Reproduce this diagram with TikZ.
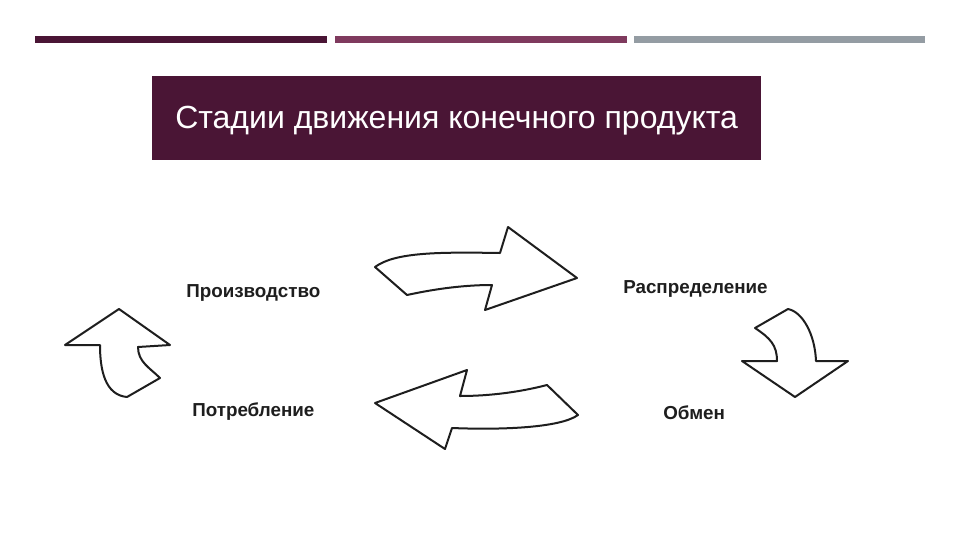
\documentclass[tikz,border=0pt]{standalone}
\usepackage{fontspec}
\setmainfont{Liberation Sans}
\definecolor{plum}{HTML}{4A1535}
\definecolor{rose}{HTML}{7F3A5E}
\definecolor{steel}{HTML}{949CA3}
\definecolor{ink}{HTML}{1E1E1E}
\tikzset{
  bar/.style={fill=#1, draw=none},
  arrowshape/.style={draw=ink, line width=1.5pt, line join=round, fill=white},
  stage/.style={text=ink, font=\fontsize{14.1}{16}\selectfont\bfseries, inner sep=0pt},
}
\begin{document}
\begin{tikzpicture}[x=0.75pt, y=-0.75pt]
\useasboundingbox (0,0) rectangle (960,540);
\fill[white] (0,0) rectangle (960,540);
% top bars
\fill[bar=plum] (35,36) rectangle (327,43);
\fill[bar=rose] (335,36) rectangle (627,43);
\fill[bar=steel] (634,36) rectangle (925,43);
% title
\node[fill=plum, minimum width=609*0.75pt, minimum height=84*0.75pt, inner sep=0pt, anchor=north west] (title) at (152,76) {};
\node[text=white, font=\fontsize{24}{28}\selectfont, anchor=west, inner sep=0pt] (titletext) at (175,121) {Стадии движения конечного продукта};
% labels
\node[stage, anchor=west] (prod) at (186,293) {Производство};
\node[stage, anchor=west] (dist) at (623,289) {Распределение};
\node[stage, anchor=west] (cons) at (192,412) {Потребление};
\node[stage, anchor=west] (exch) at (663,413) {Обмен};
% top arrow (right)
\draw[arrowshape] (375,267) .. controls (395,252) and (440,252) .. (500,253)
  -- (508,227) -- (577,278) -- (485,310) -- (492,285)
  .. controls (460,285) and (430,290) .. (407,295) -- cycle;
% bottom arrow (left)
\draw[arrowshape] (375,403) -- (467,370) -- (460,396)
  .. controls (490,396) and (520,392) .. (547,385) -- (578,415)
  .. controls (560,428) and (500,430) .. (452,428) -- (445,449) -- cycle;
% left arrow (up)
\draw[arrowshape] (119,309) -- (170,345) -- (138,347)
  .. controls (138,362) and (150,368) .. (160,378) -- (127,397)
  .. controls (105,395) and (100,370) .. (100,345) -- (65,345) -- cycle;
% right arrow (down)
\draw[arrowshape] (788,309) -- (755,328)
  .. controls (770,338) and (777,345) .. (777,361) -- (742,361) -- (795,397)
  -- (848,361) -- (816,361)
  .. controls (815,335) and (803,312) .. (788,309) -- cycle;
\end{tikzpicture}
\end{document}
